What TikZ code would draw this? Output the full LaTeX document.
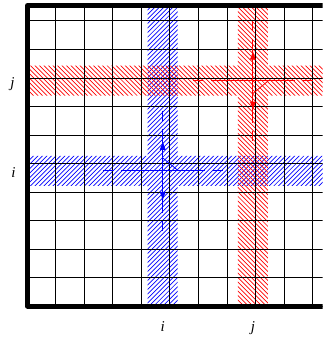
\documentclass[tikz,border=0pt]{standalone}
\usepackage{fontspec}
\setmainfont{Liberation Serif}
\usetikzlibrary{arrows.meta}
\begin{document}
\begin{tikzpicture}[x=30pt,y=30pt,
    hatch/.style={line width=0.7pt},
    flow/.style={line width=0.8pt},
    tip/.style={-{Latex[length=9pt,width=6pt]}},
    lbl/.style={font=\fontsize{15}{18}\selectfont\itshape,anchor=base,inner sep=0pt}]
    \useasboundingbox (-0.914,-1.063) rectangle (9.817,10.183);
    \clip (-0.914,-1.063) rectangle (9.817,10.183);
    \path
    (4.5,4.5) coordinate (I)
    (7.5,7.5) coordinate (J)
    ;
    % hatched strips
    \begin{scope}
        \clip (4,0) rectangle (5,10) (0,4) rectangle (10,5);
        \foreach \k in {-68,...,68} \draw[blue,hatch] (\k*0.15,0) -- ++(10,10);
    \end{scope}
    \begin{scope}
        \clip (7,0) rectangle (8,10) (0,7) rectangle (10,8);
        \foreach \k in {0,...,135} \draw[red,hatch] (\k*0.15,0) -- ++(-10,10);
    \end{scope}
    \draw[line width=1pt] (0,0) grid (10,10);
    % cross lines through the two pivots
    \foreach \c/\col in {I/blue,J/red}{
        \draw[\col,flow,dash pattern={on 10pt off 8pt on 84pt off 8pt on 10pt}]
        (\c) ++(-2,0) -- ++(4,0) (\c) ++(0,2) -- ++(0,-4);
        \path (\c) ++(0,1) coordinate (\c up) (\c) ++(0,-1) coordinate (\c down);
        \draw[\col,flow,tip] (\c) -- (\c up);
        \draw[\col,flow,tip] (\c) -- (\c down);
    }
    \path (I) ++(0,0.43) coordinate (Ia) (I) ++(0.52,0) coordinate (Ib)
    (J) ++(0.52,0) coordinate (Ja) (J) ++(0,-0.43) coordinate (Jb);
    \draw[blue,flow] (Ia) -- (Ib);
    \draw[red,flow] (Ja) -- (Jb);
    \draw[line width=5pt,line join=round] (0,0) rectangle (10,10);
    \node[lbl] (rowj) at (-0.5,7.27) {j};
    \node[lbl] (rowi) at (-0.47,4.28) {i};
    \node[lbl] (coli) at (4.5,-0.86) {i};
    \node[lbl] (colj) at (7.5,-0.86) {j};
\end{tikzpicture}
\end{document}
